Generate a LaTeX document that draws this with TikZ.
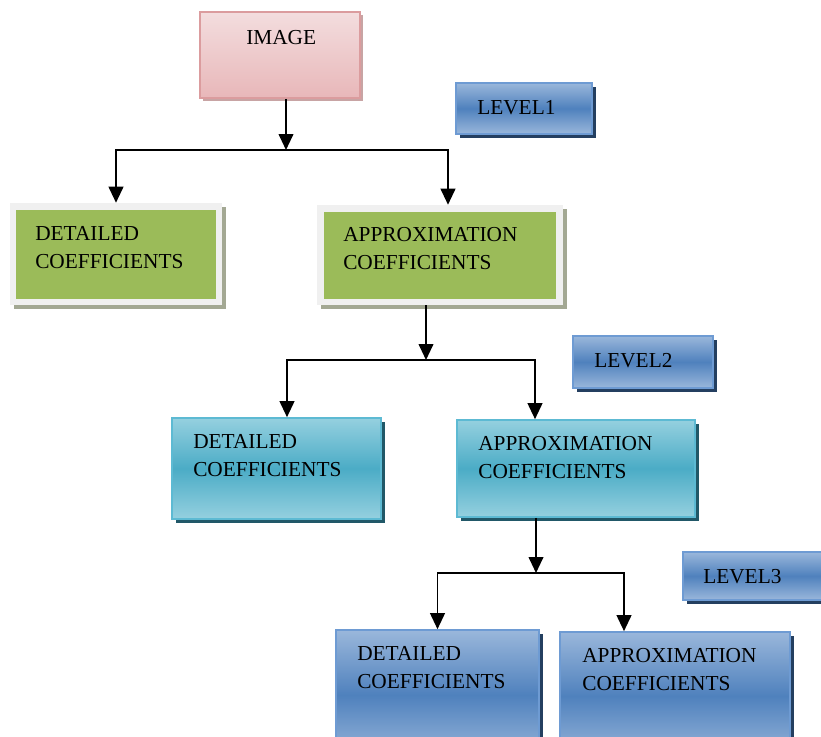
\documentclass[tikz,border=0pt]{standalone}
\usepackage{fontspec}
\setmainfont{Liberation Serif}
\usetikzlibrary{fit,shadows,arrows.meta}
\definecolor{pinkT}{HTML}{F3DDDE}
\definecolor{pinkB}{HTML}{E8B7B9}
\definecolor{pinkD}{HTML}{DB9C9E}
\definecolor{pinkS}{HTML}{C8A4A4}
\definecolor{blueL}{HTML}{9AB7DB}
\definecolor{blueM}{HTML}{4F81BD}
\definecolor{blueD}{HTML}{6E9BD3}
\definecolor{blueS}{HTML}{243F60}
\definecolor{cyanL}{HTML}{95D0DF}
\definecolor{cyanM}{HTML}{4BACC6}
\definecolor{cyanD}{HTML}{5DBAD3}
\definecolor{cyanS}{HTML}{215868}
\definecolor{greenF}{HTML}{9BBB59}
\definecolor{frameF}{HTML}{F0F0F0}
\definecolor{frameS}{HTML}{A3A893}
\begin{document}
\begin{tikzpicture}[x=0.75pt,y=-0.75pt,
  pinkbox/.style={inner sep=0, draw=pinkD, line width=1.2pt, top color=pinkT, bottom color=pinkB,
    general shadow={fill=pinkS, shadow xshift=2.3pt, shadow yshift=-2.3pt}},
  bluebox/.style={inner sep=0, draw=blueD, line width=1.2pt, top color=blueL, bottom color=blueL, middle color=blueM,
    general shadow={fill=blueS, shadow xshift=3pt, shadow yshift=-3pt}},
  cyanbox/.style={inner sep=0, draw=cyanD, line width=1.2pt, top color=cyanL, bottom color=cyanL, middle color=cyanM,
    general shadow={fill=cyanS, shadow xshift=3pt, shadow yshift=-3pt}},
  framebox/.style={inner sep=0, fill=frameF,
    general shadow={fill=frameS, shadow xshift=3pt, shadow yshift=-3pt}},
  greenbox/.style={inner sep=0, fill=greenF},
  lbl/.style={anchor=base west, inner sep=0, align=left, text width=200pt, font=\fontsize{16}{21}\selectfont},
  arr/.style={line width=1.45pt, -{Triangle[width=11pt,length=12pt]}}]
\useasboundingbox (0,0) rectangle (821,736);
\clip (0,0) rectangle (821,736);

% top
\node[pinkbox, fit={(200,12) (360,98)}] (img) {};
\node[lbl] (timg) at (246,44) {IMAGE};
\node[bluebox, fit={(456,83) (592,134)}] (lv1) {};
\node[lbl] (tlv1) at (477,114) {LEVEL1};

% level 1
\node[framebox, fit={(10,203) (222,305)}] (d1f) {};
\node[greenbox, fit={(16,210) (216,299)}] (d1) {};
\node[lbl] (td1) at (35,240) {DETAILED\\COEFFICIENTS};
\node[framebox, fit={(317,205) (563,305)}] (a1f) {};
\node[greenbox, fit={(324,212) (556,299)}] (a1) {};
\node[lbl] (ta1) at (343,241) {APPROXIMATION\\COEFFICIENTS};

% level 2
\node[bluebox, fit={(573,336) (713,388)}] (lv2) {};
\node[lbl] (tlv2) at (594,367) {LEVEL2};
\node[cyanbox, fit={(172,418) (381,519)}] (d2) {};
\node[lbl] (td2) at (193,448) {DETAILED\\COEFFICIENTS};
\node[cyanbox, fit={(457,420) (695,517)}] (a2) {};
\node[lbl] (ta2) at (478,450) {APPROXIMATION\\COEFFICIENTS};

% level 3
\node[bluebox, fit={(683,552) (830,600)}] (lv3) {};
\node[lbl] (tlv3) at (703,583) {LEVEL3};
\node[bluebox, fit={(336,630) (539,760)}] (d3) {};
\node[lbl] (td3) at (357,660) {DETAILED\\COEFFICIENTS};
\node[bluebox, fit={(560,632) (790,760)}] (a3) {};
\node[lbl] (ta3) at (582,662) {APPROXIMATION\\COEFFICIENTS};

% connectors
\coordinate (j1) at (286,150);
\coordinate (x1) at (448,0);
\draw[arr] (img.south -| j1) -- (j1);
\draw[arr] (j1) -| (d1f.north);
\draw[arr] (j1) -| (a1f.north -| x1);

\coordinate (j2) at (426,360);
\coordinate (x2) at (287,0);
\coordinate (x3) at (535,0);
\draw[arr] (a1f.south -| j2) -- (j2);
\draw[arr] (j2) -| (d2.north -| x2);
\draw[arr] (j2) -| (a2.north -| x3);

\coordinate (j3) at (536,573);
\coordinate (x4) at (624,0);
\draw[arr] (a2.south -| j3) -- (j3);
\draw[arr] (j3) -| (d3.north);
\draw[arr] (j3) -| (a3.north -| x4);
\end{tikzpicture}
\end{document}
